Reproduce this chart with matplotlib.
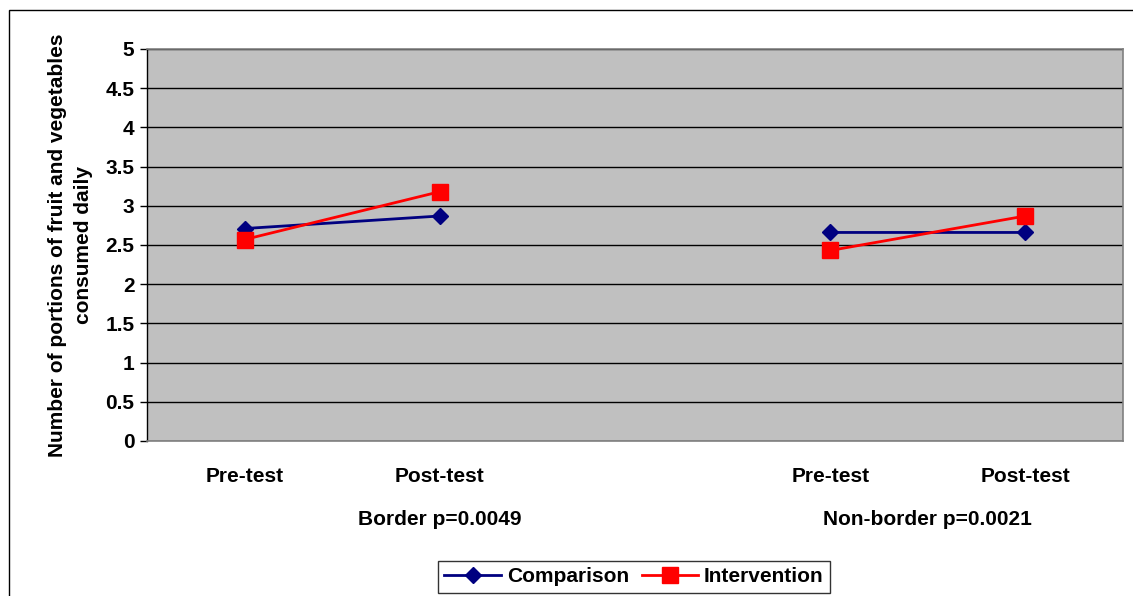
import numpy as np
import matplotlib
matplotlib.use("Agg")
import matplotlib.pyplot as plt
from matplotlib.patches import Rectangle

categories = ["Pre-test", "Post-test", "", "Pre-test", "Post-test"]
groups = ["Border p=0.0049", "Non-border p=0.0021"]
group_pos = [1.0, 3.5]
comparison = [2.71, 2.87, np.nan, 2.66, 2.66]
intervention = [2.57, 3.18, np.nan, 2.43, 2.87]
yticks = [0, 0.5, 1, 1.5, 2, 2.5, 3, 3.5, 4, 4.5, 5]
ylabel = "Number of portions of fruit and vegetables\nconsumed daily"

plt.rcParams['font.family'] = ['Liberation Sans', 'DejaVu Sans']
plt.rcParams['font.weight'] = 'bold'
FS = 15

W, H = 1133, 596
fig = plt.figure(figsize=(W / 100, H / 100), dpi=100)
fig.patch.set_facecolor('white')

# outer frame
fig.add_artist(Rectangle((9 / W, -0.01), 1.2, 1 - 10 / H + 0.01, transform=fig.transFigure,
                         fill=False, edgecolor='black', linewidth=1))

ax = fig.add_axes([147 / W, 1 - 441 / H, (1123 - 147) / W, (441 - 49) / H])
ax.set_facecolor('#C0C0C0')
x = np.arange(len(categories))
ax.plot(x, comparison, color='#000080', marker='D', markersize=8, linewidth=2,
        label='Comparison', zorder=3)
ax.plot(x, intervention, color='#FF0000', marker='s', markersize=11, linewidth=2,
        label='Intervention', zorder=4)

ax.set_xlim(-0.5, len(categories) - 0.5)
ax.set_ylim(0, 5)
ax.set_yticks(yticks)
ax.set_yticklabels([f"{v:g}" for v in yticks], fontsize=FS, fontweight='bold')
ax.yaxis.grid(True, color='black', linewidth=1)
ax.set_axisbelow(True)
ax.set_xticks(x)
ax.set_xticklabels(categories, fontsize=FS, fontweight='bold')
ax.tick_params(axis='x', length=0, pad=19)
ax.tick_params(axis='y', length=5, width=1, direction='out', pad=4)

for sp in ['top', 'right', 'bottom']:
    ax.spines[sp].set_color('#808080')
    ax.spines[sp].set_linewidth(1.2)
ax.spines['left'].set_color('black')
ax.spines['left'].set_linewidth(1)

for gname, gx in zip(groups, group_pos):
    ax.text(gx, -1.0, gname, transform=ax.transData,
            ha='center', va='center', fontsize=FS, fontweight='bold', clip_on=False)

ax.set_ylabel(ylabel, fontsize=FS, fontweight='bold', labelpad=9, linespacing=1.45)

leg = fig.legend(loc='center', bbox_to_anchor=(634 / W, 1 - 577 / H), ncol=2,
                 frameon=True, fancybox=False, fontsize=FS, handlelength=2.7,
                 columnspacing=0.6, handletextpad=0.3, borderpad=0.3)
leg.get_frame().set_edgecolor('black')
leg.get_frame().set_linewidth(1)
for t in leg.get_texts():
    t.set_fontweight('bold')

fig.savefig('out.png', dpi=100)
